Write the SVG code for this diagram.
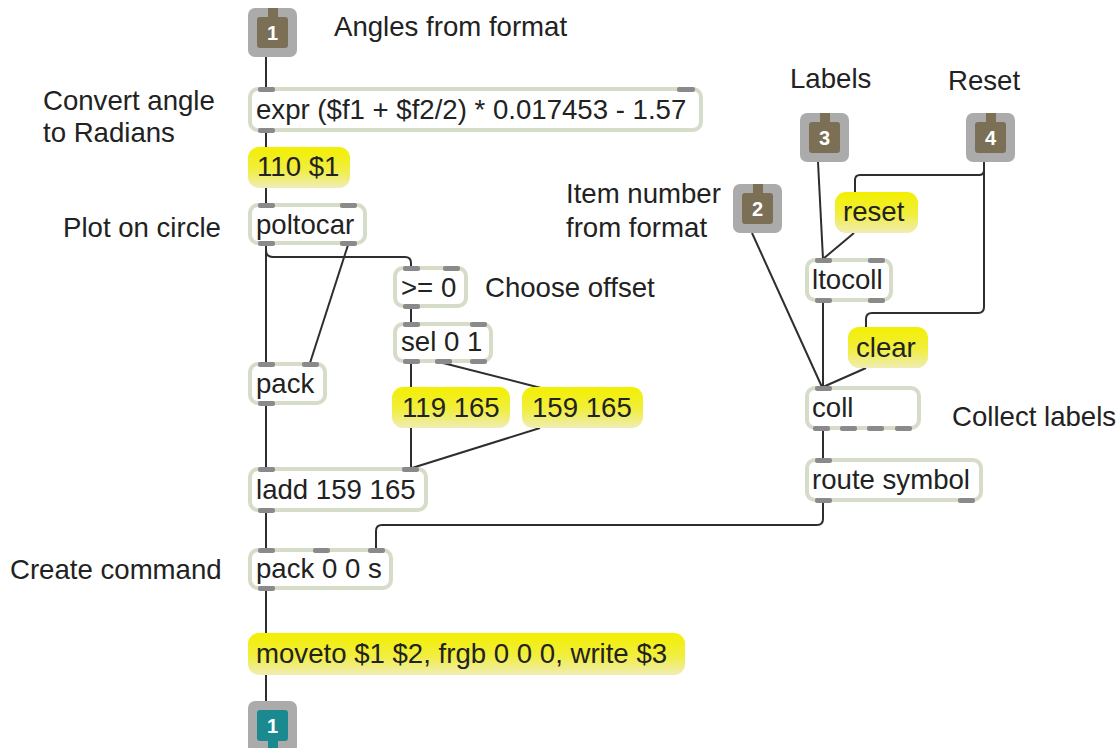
<svg xmlns="http://www.w3.org/2000/svg" width="1120" height="748" viewBox="0 0 1120 748">
  <defs>
    <linearGradient id="msgFill" x1="0" y1="0" x2="0" y2="1">
      <stop offset="0" stop-color="#f3ef00"/>
      <stop offset="0.55" stop-color="#f1ee40"/>
      <stop offset="1" stop-color="#efedb6"/>
    </linearGradient>
  </defs>
  <style>
    text { font-family: "Liberation Sans", Arial, sans-serif; font-size: 27.6px; fill: #222; }
    .obj { fill: #ffffff; stroke: #d5dcc7; stroke-width: 4; }
    .msg { fill: url(#msgFill); }
    .tab { fill: #8a8a8a; }
    .port { fill: #ababab; }
    .inl { fill: #7b6f56; }
    .outl { fill: #1b8a90; }
    .num { font-family: "Liberation Sans", Arial, sans-serif; font-weight: bold; font-size: 20px; fill: #ffffff; text-anchor: middle; }
    .cord { fill: none; stroke: #2e2e2e; stroke-width: 2; }
  </style>

  <!-- comments -->
  <g id="comments">
    <text x="334" y="36">Angles from format</text>
    <text x="43" y="110">Convert angle</text>
    <text x="43" y="142">to Radians</text>
    <text x="63" y="237">Plot on circle</text>
    <text x="485" y="297">Choose offset</text>
    <text x="566" y="203">Item number</text>
    <text x="566" y="237">from format</text>
    <text x="790" y="88">Labels</text>
    <text x="948" y="90">Reset</text>
    <text x="952" y="426">Collect labels</text>
    <text x="10" y="579">Create command</text>
  </g>

  <!-- patch cords -->
  <g id="connectors">
    <path class="cord" d="M266 57 V88"/>
    <path class="cord" d="M266 132 V148"/>
    <path class="cord" d="M266 188 V204"/>
    <path class="cord" d="M266 245 V363"/>
    <path class="cord" d="M266 250 Q266 257 273 257 H405 Q411 257 411 263 V267"/>
    <path class="cord" d="M348 245 L310 363"/>
    <path class="cord" d="M411 308 V323"/>
    <path class="cord" d="M411 363 V388"/>
    <path class="cord" d="M443 363 L541 388"/>
    <path class="cord" d="M411 428 V468"/>
    <path class="cord" d="M540 428 L412 468"/>
    <path class="cord" d="M266 405 V468"/>
    <path class="cord" d="M266 512 V549"/>
    <path class="cord" d="M823 502 V519 Q823 525 817 525 H382 Q376 525 376 531 V549"/>
    <path class="cord" d="M266 590 V634"/>
    <path class="cord" d="M266 675 V702"/>
    <path class="cord" d="M818 162 L823 259"/>
    <path class="cord" d="M984 162 V170 Q984 175 979 175 H860 Q855 175 855 180 V193"/>
    <path class="cord" d="M984 162 V307 Q984 313 978 313 H872 Q866 313 866 319 V328"/>
    <path class="cord" d="M854 233 L823 259"/>
    <path class="cord" d="M752 233 L822 387"/>
    <path class="cord" d="M823 302 V387"/>
    <path class="cord" d="M866 368 L823 387"/>
    <path class="cord" d="M823 430 V459"/>
  </g>

  <!-- inlets -->
  <g id="inlet1">
    <rect class="port" x="248" y="8" width="49" height="49" rx="7"/>
    <rect class="inl" x="257" y="17" width="31" height="31" rx="3"/>
    <rect class="inl" x="268" y="8" width="10" height="10"/>
    <text class="num" x="272.5" y="40">1</text>
  </g>
  <g id="inlet2">
    <rect class="port" x="733" y="184" width="49" height="49" rx="7"/>
    <rect class="inl" x="742" y="193" width="31" height="31" rx="3"/>
    <rect class="inl" x="753" y="184" width="10" height="10"/>
    <text class="num" x="757.5" y="216">2</text>
  </g>
  <g id="inlet3">
    <rect class="port" x="800" y="113" width="49" height="49" rx="7"/>
    <rect class="inl" x="809" y="122" width="31" height="31" rx="3"/>
    <rect class="inl" x="820" y="113" width="10" height="10"/>
    <text class="num" x="824.5" y="145">3</text>
  </g>
  <g id="inlet4">
    <rect class="port" x="966" y="113" width="49" height="49" rx="7"/>
    <rect class="inl" x="975" y="122" width="31" height="31" rx="3"/>
    <rect class="inl" x="986" y="113" width="10" height="10"/>
    <text class="num" x="990.5" y="145">4</text>
  </g>

  <!-- outlet -->
  <g id="outlet1">
    <rect class="port" x="248" y="701" width="49" height="52" rx="7"/>
    <rect class="outl" x="257" y="710" width="31" height="31" rx="3"/>
    <rect class="outl" x="268" y="740" width="10" height="10"/>
    <text class="num" x="272.5" y="733">1</text>
  </g>

  <!-- objects -->
  <g id="expr">
    <rect class="obj" x="250" y="89" width="451" height="41" rx="8"/>
    <rect class="tab" x="258" y="87" width="17" height="5" rx="2"/>
    <rect class="tab" x="677" y="87" width="18" height="5" rx="2"/>
    <rect class="tab" x="258" y="128" width="17" height="5" rx="2"/>
    <text x="256" y="119">expr ($f1 + $f2/2) * 0.017453 - 1.57</text>
  </g>

  <g id="msg-110">
    <rect class="msg" x="248" y="147" width="102" height="41" rx="11"/>
    <text x="257" y="176">110 $1</text>
  </g>

  <g id="poltocar">
    <rect class="obj" x="250" y="205" width="115" height="38" rx="8"/>
    <rect class="tab" x="258" y="203" width="17" height="5" rx="2"/>
    <rect class="tab" x="340" y="203" width="17" height="5" rx="2"/>
    <rect class="tab" x="258" y="241" width="17" height="5" rx="2"/>
    <rect class="tab" x="340" y="241" width="17" height="5" rx="2"/>
    <text x="256" y="234">poltocar</text>
  </g>

  <g id="gte">
    <rect class="obj" x="395" y="268" width="71" height="38" rx="8"/>
    <rect class="tab" x="403" y="266" width="17" height="5" rx="2"/>
    <rect class="tab" x="443" y="266" width="17" height="5" rx="2"/>
    <rect class="tab" x="403" y="304" width="17" height="5" rx="2"/>
    <text x="401" y="297">&gt;= 0</text>
  </g>

  <g id="sel">
    <rect class="obj" x="395" y="324" width="96" height="37" rx="8"/>
    <rect class="tab" x="403" y="322" width="17" height="5" rx="2"/>
    <rect class="tab" x="470" y="322" width="17" height="5" rx="2"/>
    <rect class="tab" x="403" y="359" width="17" height="5" rx="2"/>
    <rect class="tab" x="435" y="359" width="17" height="5" rx="2"/>
    <rect class="tab" x="470" y="359" width="17" height="5" rx="2"/>
    <text x="401" y="351">sel 0 1</text>
  </g>

  <g id="pack">
    <rect class="obj" x="250" y="364" width="75" height="39" rx="8"/>
    <rect class="tab" x="258" y="362" width="17" height="5" rx="2"/>
    <rect class="tab" x="302" y="362" width="17" height="5" rx="2"/>
    <rect class="tab" x="258" y="401" width="17" height="5" rx="2"/>
    <text x="256" y="393">pack</text>
  </g>

  <g id="msg-119">
    <rect class="msg" x="392" y="387" width="118" height="41" rx="11"/>
    <text x="402" y="417">119 165</text>
  </g>

  <g id="msg-159">
    <rect class="msg" x="522" y="387" width="121" height="41" rx="11"/>
    <text x="532" y="417">159 165</text>
  </g>

  <g id="ladd">
    <rect class="obj" x="250" y="469" width="176" height="41" rx="8"/>
    <rect class="tab" x="258" y="467" width="17" height="5" rx="2"/>
    <rect class="tab" x="402" y="467" width="17" height="5" rx="2"/>
    <rect class="tab" x="258" y="508" width="17" height="5" rx="2"/>
    <text x="256" y="499">ladd 159 165</text>
  </g>

  <g id="pack00s">
    <rect class="obj" x="250" y="550" width="141" height="38" rx="8"/>
    <rect class="tab" x="258" y="548" width="17" height="5" rx="2"/>
    <rect class="tab" x="313" y="548" width="17" height="5" rx="2"/>
    <rect class="tab" x="368" y="548" width="17" height="5" rx="2"/>
    <rect class="tab" x="258" y="586" width="17" height="5" rx="2"/>
    <text x="256" y="578">pack 0 0 s</text>
  </g>

  <g id="msg-moveto">
    <rect class="msg" x="248" y="633" width="437" height="42" rx="11"/>
    <text x="256" y="663">moveto $1 $2, frgb 0 0 0, write $3</text>
  </g>

  <g id="msg-reset">
    <rect class="msg" x="835" y="192" width="83" height="41" rx="11"/>
    <text x="843" y="221">reset</text>
  </g>

  <g id="ltocoll">
    <rect class="obj" x="807" y="260" width="84" height="40" rx="8"/>
    <rect class="tab" x="815" y="258" width="17" height="5" rx="2"/>
    <rect class="tab" x="868" y="258" width="17" height="5" rx="2"/>
    <rect class="tab" x="815" y="298" width="17" height="5" rx="2"/>
    <rect class="tab" x="868" y="298" width="17" height="5" rx="2"/>
    <text x="812" y="289">ltocoll</text>
  </g>

  <g id="msg-clear">
    <rect class="msg" x="848" y="327" width="80" height="41" rx="11"/>
    <text x="856" y="357">clear</text>
  </g>

  <g id="coll">
    <rect class="obj" x="807" y="388" width="112" height="40" rx="8"/>
    <rect class="tab" x="815" y="386" width="17" height="5" rx="2"/>
    <rect class="tab" x="813" y="426" width="17" height="5" rx="2"/>
    <rect class="tab" x="840" y="426" width="17" height="5" rx="2"/>
    <rect class="tab" x="867" y="426" width="17" height="5" rx="2"/>
    <rect class="tab" x="895" y="426" width="17" height="5" rx="2"/>
    <text x="812" y="417">coll</text>
  </g>

  <g id="route">
    <rect class="obj" x="807" y="460" width="174" height="40" rx="8"/>
    <rect class="tab" x="815" y="458" width="17" height="5" rx="2"/>
    <rect class="tab" x="815" y="498" width="17" height="5" rx="2"/>
    <rect class="tab" x="958" y="498" width="17" height="5" rx="2"/>
    <text x="812" y="489">route symbol</text>
  </g>
</svg>
